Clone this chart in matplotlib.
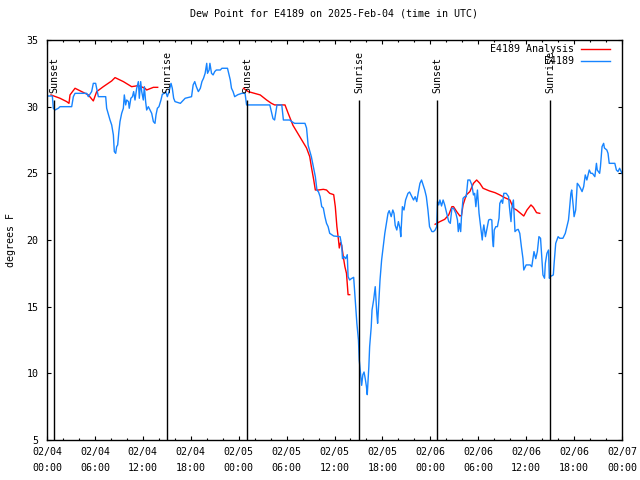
import matplotlib
matplotlib.use("Agg")
import matplotlib.pyplot as plt
import matplotlib.dates as mdates
import numpy as np
import pandas as pd

# ---- data (hours since 2025-02-04 00:00 UTC, dew point degF) ----
obs_hours = [0.0, 0.67, 0.79, 1.0, 1.42, 1.63, 3.09, 3.3, 3.51, 4.97, 5.18, 5.59, 5.8, 6.09, 6.22, 6.43,
             7.35, 7.47, 7.89, 8.1, 8.31, 8.43, 8.6, 8.72, 8.85, 9.0, 9.14, 9.35, 9.56, 9.68, 9.85, 9.98,
             10.2, 10.3, 10.5, 10.7, 10.85, 11.02, 11.23, 11.44, 11.56, 11.73, 11.86, 12.06, 12.19, 12.35,
             12.48, 12.69, 12.9, 13.11, 13.32, 13.52, 13.65, 13.82, 14.02, 14.27, 14.44, 14.69, 14.86,
             15.07, 15.28, 15.53, 15.69, 15.86, 16.03, 16.7, 17.1, 17.3, 18.1, 18.3, 18.5, 18.7, 18.95,
             19.2, 19.4, 19.6, 19.8, 20.0, 20.1, 20.3, 20.4, 20.6, 20.8, 21.0, 21.2, 21.7, 21.9, 22.6,
             22.8, 22.95, 23.1, 23.3, 23.5, 23.9, 24.4, 24.8, 24.99, 27.9, 28.1, 28.3, 28.5, 28.8, 29.4,
             29.6, 30.4, 30.6, 31.0, 32.3, 32.5, 32.7, 33.1, 33.6, 33.8, 34.0, 34.2, 34.4, 34.6, 34.8,
             35.0, 35.2, 35.4, 35.9, 36.7, 36.9, 37.0, 37.2, 37.4, 37.6, 37.7, 37.9, 38.1, 38.4, 38.6,
             38.8, 39.0, 39.1, 39.3, 39.4, 39.55, 39.7, 39.85, 40.0, 40.1, 40.3, 40.4, 40.6, 40.7, 40.9,
             41.1, 41.3, 41.4, 41.6, 41.7, 41.9, 42.1, 42.3, 42.5, 42.7, 42.85, 43.1, 43.3, 43.45, 43.6,
             43.8, 44.0, 44.2, 44.3, 44.5, 44.7, 44.9, 45.2, 45.4, 45.7, 45.9, 46.1, 46.3, 46.5, 46.7,
             46.9, 47.1, 47.3, 47.5, 47.7, 47.9, 48.2, 48.4, 48.6, 48.8, 48.9, 49.05, 49.2, 49.4, 49.6,
             49.8, 50.0, 50.3, 50.5, 50.7, 50.9, 51.2, 51.4, 51.5, 51.65, 51.8, 51.9, 52.1, 52.3, 52.5,
             52.7, 52.95, 53.2, 53.4, 53.55, 53.7, 53.9, 54.1, 54.3, 54.5, 54.6, 54.7, 54.9, 55.1, 55.3,
             55.5, 55.7, 55.8, 55.9, 56.0, 56.2, 56.4, 56.6, 56.7, 56.9, 57.05, 57.2, 57.5, 57.8, 57.9,
             58.1, 58.2, 58.4, 58.6, 58.8, 59.0, 59.2, 59.4, 59.6, 59.7, 60.0, 60.5, 60.7, 60.98, 61.2,
             61.4, 61.6, 61.8, 62.0, 62.1, 62.3, 62.4, 62.6, 62.8, 62.9, 63.0, 63.4, 63.5, 63.7, 64.0,
             64.2, 64.6, 64.9, 65.1, 65.3, 65.4, 65.6, 65.7, 65.9, 66.0, 66.2, 66.4, 66.6, 66.8, 67.0,
             67.2, 67.4, 67.6, 67.8, 67.9, 68.1, 68.3, 68.6, 68.8, 68.9, 69.2, 69.3, 69.5, 69.7, 69.8,
             70.1, 70.25, 70.4, 71.1, 71.3, 71.5, 71.7, 72.0]
obs_values = [30.8, 30.8, 29.88, 29.75, 29.88, 30.0, 30.0, 30.75, 31.0, 31.0, 30.75, 31.13, 31.75, 31.75,
              31.38, 30.75, 30.75, 29.88, 29.0, 28.63, 27.88, 26.63, 26.5, 27.0, 27.13, 28.13, 28.88,
              29.5, 29.88, 30.88, 30.13, 30.5, 30.38, 29.88, 30.63, 30.75, 31.13, 30.5, 31.38, 31.88,
              30.63, 31.88, 31.13, 30.5, 31.5, 30.38, 29.75, 30.0, 29.75, 29.5, 28.88, 28.75, 29.38,
              29.88, 30.0, 30.5, 30.93, 31.0, 31.13, 30.75, 31.13, 31.75, 31.38, 30.63, 30.38, 30.25,
              30.5, 30.63, 30.75, 31.63, 31.88, 31.5, 31.13, 31.38, 31.88, 32.13, 32.5, 33.25, 32.5,
              32.75, 33.25, 32.5, 32.38, 32.63, 32.75, 32.75, 32.88, 32.88, 32.38, 32.0, 31.38, 31.13,
              30.75, 30.9, 31.0, 31.0, 30.13, 30.13, 29.6, 29.1, 29.0, 30.13, 30.13, 29.0, 29.0, 28.9,
              28.75, 28.75, 28.4, 27.1, 26.25, 24.75, 23.75, 23.6, 23.25, 22.5, 22.4, 21.75, 21.25,
              21.0, 20.5, 20.3, 20.25, 19.6, 18.6, 18.75, 18.6, 18.9, 17.25, 17.0, 17.1, 17.2, 15.5,
              13.75, 12.5, 11.0, 9.75, 9.1, 9.9, 10.1, 9.6, 9.0, 8.4, 10.5, 12.0, 13.5, 14.75, 15.5,
              16.5, 14.5, 13.75, 16.0, 17.0, 18.5, 19.5, 20.5, 21.25, 22.0, 22.2, 21.75, 22.25, 22.0,
              21.1, 20.75, 21.38, 20.88, 20.25, 22.5, 22.25, 23.0, 23.5, 23.6, 23.25, 23.0, 23.25,
              22.88, 23.6, 24.25, 24.5, 24.13, 23.75, 23.25, 22.25, 21.0, 20.63, 20.63, 20.75, 21.0,
              22.88, 22.63, 23.0, 22.55, 23.0, 22.63, 22.13, 21.38, 21.25, 22.38, 22.38, 22.0, 21.5,
              20.63, 21.25, 20.63, 21.75, 23.13, 23.25, 23.25, 24.5, 24.5, 24.13, 23.38, 23.5, 22.5,
              23.75, 22.0, 21.0, 20.0, 20.75, 21.13, 20.25, 20.88, 21.5, 21.55, 21.5, 20.0, 19.5,
              20.75, 21.0, 21.0, 21.63, 22.75, 23.0, 22.75, 23.5, 23.5, 23.25, 22.5, 21.38, 22.38,
              23.0, 20.63, 20.75, 20.8, 20.5, 19.5, 18.6, 17.75, 18.13, 18.13, 18.0, 19.13, 18.6,
              19.13, 20.25, 20.13, 18.25, 17.38, 17.13, 18.25, 19.0, 19.25, 17.13, 17.25, 17.38, 18.25,
              19.75, 20.25, 20.13, 20.13, 20.5, 21.0, 21.5, 22.13, 23.5, 23.75, 22.5, 21.75, 22.25,
              24.25, 24.1, 23.88, 23.63, 24.0, 24.88, 24.5, 25.0, 25.25, 25.0, 25.0, 24.75, 25.75,
              25.25, 25.0, 25.5, 27.0, 27.25, 26.9, 26.75, 26.5, 25.75, 25.75, 25.25, 25.13, 25.38,
              25.0]

ana1_hours = [0.5, 1.63, 2.46, 2.75, 2.88, 3.51, 4.34, 5.18, 5.8, 6.22, 7.05, 8.1, 8.52, 9.56, 10.6,
              11.44, 12.27, 12.48, 13.32, 13.86]
ana1_values = [30.88, 30.63, 30.38, 30.25, 30.88, 31.38, 31.13, 30.88, 30.43, 31.13, 31.5, 31.93, 32.18,
               31.88, 31.5, 31.58, 31.38, 31.25, 31.45, 31.45]
ana2_hours = [24.6, 25.2, 26.7, 27.5, 28.1, 28.5, 29.8, 30.2, 30.8, 31.5, 31.9, 32.5, 32.9, 33.1, 33.4,
              33.6, 34.0, 34.6, 35.0, 35.4, 35.9, 36.1, 36.3, 36.5, 36.6, 36.75, 36.9, 37.1, 37.3, 37.5,
              37.7, 37.9]
ana2_values = [31.38, 31.13, 30.88, 30.5, 30.25, 30.13, 30.13, 29.5, 28.6, 27.9, 27.5, 26.9, 26.25, 25.5,
               24.5, 23.75, 23.75, 23.8, 23.75, 23.5, 23.4, 22.5, 21.0, 20.0, 19.4, 19.8, 19.6, 18.75,
               18.0, 17.5, 15.9, 15.9]
ana3_hours = [48.6, 49.2, 49.8, 50.3, 50.7, 50.9, 51.3, 51.7, 51.9, 52.1, 52.5, 52.95, 53.4, 53.8, 54.2,
              54.6, 55.4, 56.1, 56.7, 57.3, 57.97, 58.4, 58.8, 59.2, 59.7, 60.1, 60.6, 60.9, 61.3, 61.7]
ana3_values = [21.18, 21.38, 21.55, 21.88, 22.5, 22.5, 22.13, 21.8, 21.85, 22.63, 23.38, 23.63, 24.25,
               24.5, 24.25, 23.88, 23.68, 23.55, 23.38, 23.18, 23.0, 22.38, 22.25, 22.05, 21.8, 22.25,
               22.63, 22.45, 22.05, 22.0]

sun_hours = [0.9, 15.03, 25.04, 39.07, 48.84, 62.99]
sun_labels = ["Sunset", "Sunrise", "Sunset", "Sunrise", "Sunset", "Sunrise"]

base = pd.Timestamp("2025-02-04 00:00")
def to_time(hours):
    return base + pd.to_timedelta(np.asarray(hours, dtype=float), unit="h")

FONT = "DejaVu Sans Mono"
FS = 7.2
plt.rcParams["font.family"] = FONT
plt.rcParams["font.size"] = FS

fig = plt.figure(figsize=(6.4, 4.8), dpi=100)
ax = fig.add_axes([47 / 640, 1 - 440 / 480, 575 / 640, 400 / 480])

ax.plot(to_time(ana1_hours), ana1_values, color="#ff0000", lw=1.0, label="E4189 Analysis")
ax.plot(to_time(ana2_hours), ana2_values, color="#ff0000", lw=1.0)
ax.plot(to_time(ana3_hours), ana3_values, color="#ff0000", lw=1.0)
ax.plot(to_time(obs_hours), obs_values, color="#1684ff", lw=1.0, label="E4189")

for h, lab in zip(sun_hours, sun_labels):
    t = to_time([h])[0]
    ax.vlines(t, 5, 30.5, color="black", lw=1.0)
    ax.text(t, 31.0, lab, rotation=90, ha="center", va="bottom", fontsize=FS)

ax.set_xlim(base, base + pd.Timedelta(hours=72))
ax.set_ylim(5, 35)
ax.set_yticks(np.arange(5, 36, 5))
ax.xaxis.set_major_locator(mdates.HourLocator(byhour=[0, 6, 12, 18]))
ax.xaxis.set_minor_locator(mdates.HourLocator(byhour=range(0, 24, 2)))
ax.xaxis.set_major_formatter(mdates.DateFormatter("%m/%d\n%H:%M"))
for lab in ax.get_xticklabels():
    lab.set_linespacing(1.8)
ax.tick_params(axis="both", which="major", direction="in", length=3.2, width=0.8,
               top=True, right=True, labelsize=FS)
ax.tick_params(axis="x", which="minor", direction="in", length=1.6, width=0.8, top=True)
ax.tick_params(axis="x", which="major", pad=5)
ax.tick_params(axis="y", which="major", pad=6)
for s in ax.spines.values():
    s.set_linewidth(1.0)

ax.set_ylabel("degrees F", fontsize=FS, labelpad=8)
ax.set_title("Dew Point for E4189 on 2025-Feb-04 (time in UTC)", fontsize=FS, pad=17)

ax.legend(loc="upper right", bbox_to_anchor=(0.99, 1.005), frameon=False, markerfirst=False,
          handlelength=2.9, handletextpad=0.7, labelspacing=0.25, fontsize=FS, borderaxespad=0.2)

fig.savefig("out.png", dpi=100)
